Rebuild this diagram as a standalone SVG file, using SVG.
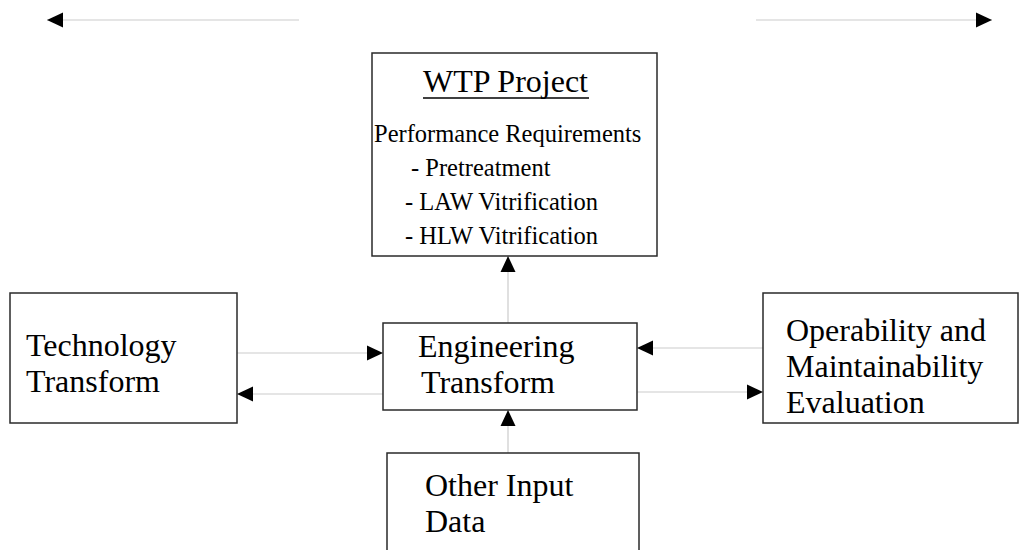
<svg xmlns="http://www.w3.org/2000/svg" width="1029" height="550" viewBox="0 0 1029 550">
  <style>
    .box { fill: #ffffff; stroke: #2a2a2a; stroke-width: 1.5; }
    .lbl { font-family: "Liberation Serif", "Times New Roman", serif; font-size: 32px; fill: #000000; }
    .sub { font-family: "Liberation Serif", "Times New Roman", serif; font-size: 24.5px; fill: #000000; }
    .wire { fill: none; stroke: #cccccc; stroke-width: 1.2; }
  </style>
  <defs>
    <marker id="head" markerUnits="userSpaceOnUse" markerWidth="16" markerHeight="16" viewBox="0 0 16 16" refX="16" refY="8" orient="auto">
      <path d="M0,0.5 L16,8 L0,15.5 Z" fill="#000000"/>
    </marker>
  </defs>
  <rect width="1029" height="550" fill="#ffffff"/>

  <!-- connectors -->
  <g id="connectors">
    <path class="wire" d="M299,20 L47,20" marker-end="url(#head)"/>
    <path class="wire" d="M756,20 L992,20" marker-end="url(#head)"/>
    <path class="wire" d="M508,323 L508,256" marker-end="url(#head)"/>
    <path class="wire" d="M237,353 L383,353" marker-end="url(#head)"/>
    <path class="wire" d="M383,394 L237,394" marker-end="url(#head)"/>
    <path class="wire" d="M763,348 L637,348" marker-end="url(#head)"/>
    <path class="wire" d="M637,392 L763,392" marker-end="url(#head)"/>
    <path class="wire" d="M508,453 L508,410" marker-end="url(#head)"/>
  </g>

  <g id="wtp-project">
    <rect class="box" x="372" y="53" width="285" height="203"/>
    <text class="lbl" x="423" y="92">WTP Project</text>
    <line x1="423" y1="98" x2="589" y2="98" stroke="#000000" stroke-width="1.6"/>
    <text class="sub" x="374" y="142">Performance Requirements</text>
    <text class="sub" x="411" y="176">- Pretreatment</text>
    <text class="sub" x="405" y="210">- LAW Vitrification</text>
    <text class="sub" x="405" y="244">- HLW Vitrification</text>
  </g>

  <g id="technology-transform">
    <rect class="box" x="10" y="293" width="227" height="130"/>
    <text class="lbl" x="26" y="356">Technology</text>
    <text class="lbl" x="26" y="392">Transform</text>
  </g>

  <g id="engineering-transform">
    <rect class="box" x="383" y="323" width="254" height="87"/>
    <text class="lbl" x="418" y="357">Engineering</text>
    <text class="lbl" x="421" y="393">Transform</text>
  </g>

  <g id="operability-evaluation">
    <rect class="box" x="763" y="293" width="255" height="130"/>
    <text class="lbl" x="786" y="341">Operability and</text>
    <text class="lbl" x="786" y="377">Maintainability</text>
    <text class="lbl" x="786" y="413">Evaluation</text>
  </g>

  <g id="other-input-data">
    <rect class="box" x="387" y="453" width="252" height="110"/>
    <text class="lbl" x="425" y="496">Other Input</text>
    <text class="lbl" x="425" y="532">Data</text>
  </g>
</svg>
